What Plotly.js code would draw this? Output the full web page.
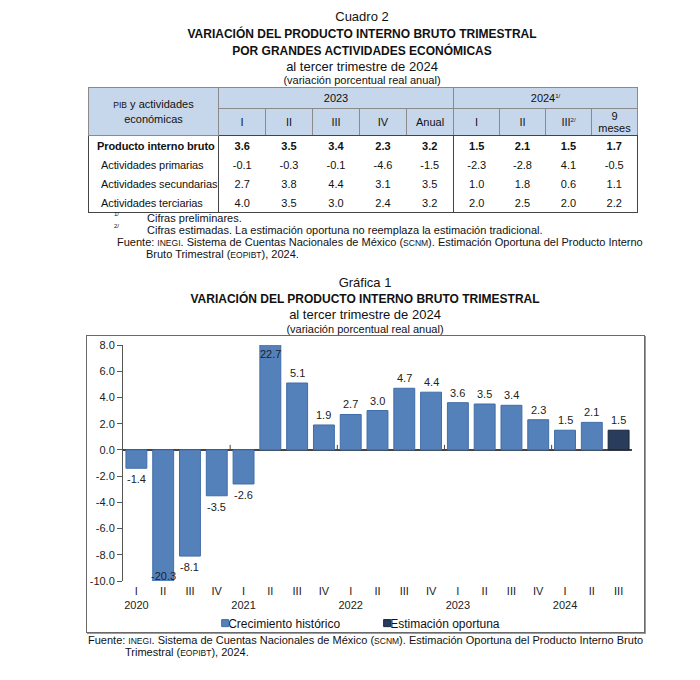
<!DOCTYPE html>
<html>
<head>
<meta charset="utf-8">
<script src="https://cdn.plot.ly/plotly-3.0.1.min.js"></script>
<style>
  html, body { margin:0; padding:0; background:#fff; }
  body { width:700px; height:680px; position:relative; overflow:hidden;
         font-family:"Liberation Sans", Arial, sans-serif; color:#111; }
  .ln { position:absolute; white-space:nowrap; line-height:14px; height:14px; }
  .ctr { text-align:center; }
  .b { font-weight:bold; }
  .sc { font-size:8.5px; }
  sup.fn { font-size:6px; vertical-align:4px; line-height:0; }
  #tbl { position:absolute; left:88px; top:87px; border-collapse:collapse; table-layout:fixed;
         width:549px; font-size:11px; border:1px solid #444; }
  #tbl th { font-weight:normal; background:#C6D6EB; text-align:center; padding:0;
            border:1px solid #8a8a8a; }
  #tbl td { padding:0; text-align:center; height:19px; border:none; white-space:nowrap; }
  #tbl td.lab { text-align:left; padding-left:12px; letter-spacing:-0.1px; }
  #tbl tr.pib td { font-weight:bold; }
  #tbl tr.pib td.lab { padding-left:8px; }
  #tbl .sepL { border-left:1px solid #444 !important; }
  #tbl tr.h2 th { border-bottom:1px solid #444; }
  #chartbox { position:absolute; left:86px; top:335px; width:557px; height:296px;
              border:1px solid #6a6a6a; box-shadow:1px 1px 0 #9a9a9a; }
  #chart { width:557px; height:296px; }
</style>
</head>
<body>
<table id="tbl"></table>
<div id="chartbox"><div id="chart"></div></div>
<script>
// ---------- Chart data (Gráfica 1) ----------
const quarters = ['I','II','III','IV','I','II','III','IV','I','II','III','IV','I','II','III','IV','I','II','III'];
const years    = ['2020','2020','2020','2020','2021','2021','2021','2021','2022','2022','2022','2022','2023','2023','2023','2023','2024','2024','2024'];
const gdpGrowth = [-1.4,-20.3,-8.1,-3.5,-2.6,22.7,5.1,1.9,2.7,3.0,4.7,4.4,3.6,3.5,3.4,2.3,1.5,2.1,1.5];
const estimateType = ['hist','hist','hist','hist','hist','hist','hist','hist','hist','hist','hist','hist','hist','hist','hist','hist','hist','hist','est'];
const seriesNames = { hist:'Crecimiento histórico', est:'Estimación oportuna' };
const yTickValues = [-10, -8, -6, -4, -2, 0, 2, 4, 6, 8];

// ---------- Table data (Cuadro 2) ----------
const tableGroups = ['2023','2024'];
const cols2023 = ['I','II','III','IV','Anual'];
const cols2024 = ['I','II','III','9<br>meses'];
const rowLabels = ['Producto interno bruto','Actividades primarias','Actividades secundarias','Actividades terciarias'];
const rowPIB         = [3.6, 3.5, 3.4, 2.3, 3.2, 1.5, 2.1, 1.5, 1.7];
const rowPrimarias   = [-0.1,-0.3,-0.1,-4.6,-1.5,-2.3,-2.8, 4.1,-0.5];
const rowSecundarias = [2.7, 3.8, 4.4, 3.1, 3.5, 1.0, 1.8, 0.6, 1.1];
const rowTerciarias  = [4.0, 3.5, 3.0, 2.4, 3.2, 2.0, 2.5, 2.0, 2.2];

// ---------- text helper ----------
function line(parent, html, opts) {
  const d = document.createElement('div');
  d.className = 'ln' + (opts.center ? ' ctr' : '') + (opts.bold ? ' b' : '');
  d.innerHTML = html;
  d.style.fontSize = (opts.size || 11) + 'px';
  d.style.top = (opts.cy - 7) + 'px';
  if (opts.center) { d.style.left = (opts.cx - 300) + 'px'; d.style.width = '600px'; }
  else { d.style.left = opts.x + 'px'; }
  parent.appendChild(d);
}
const body = document.body;
line(body, 'Cuadro 2', {center:true, cx:362, cy:17, size:13});
line(body, 'VARIACIÓN DEL PRODUCTO INTERNO BRUTO TRIMESTRAL', {center:true, cx:362, cy:34, size:12, bold:true});
line(body, 'POR GRANDES ACTIVIDADES ECONÓMICAS', {center:true, cx:362, cy:51, size:12, bold:true});
line(body, 'al tercer trimestre de 2024', {center:true, cx:362, cy:67, size:13});
line(body, '(variación porcentual real anual)', {center:true, cx:362, cy:80, size:11});

// ---------- table ----------
(function buildTable(){
  const rows = [rowPIB, rowPrimarias, rowSecundarias, rowTerciarias];
  let h = '<colgroup><col style="width:130px">';
  cols2023.forEach(()=> h += '<col style="width:47px">');
  cols2024.forEach(()=> h += '<col style="width:46px">');
  h += '</colgroup>';
  h += '<tr style="height:21px"><th rowspan="2" style="line-height:14px"><span class="sc">PIB</span> y actividades<br>económicas</th>';
  h += '<th colspan="' + cols2023.length + '" class="sepL">' + tableGroups[0] + '</th>';
  h += '<th colspan="' + cols2024.length + '" class="sepL">' + tableGroups[1] + '<sup class="fn">1/</sup></th></tr>';
  h += '<tr class="h2" style="height:27px">';
  cols2023.forEach((c,i)=> h += '<th' + (i===0?' class="sepL"':'') + '>' + c + '</th>');
  cols2024.forEach((c,i)=> {
    let t = c;
    if (c === 'III') t = 'III<sup class="fn">2/</sup>';
    if (c.indexOf('<br>')>=0) t = '<div style="line-height:12px">' + c + '</div>';
    h += '<th' + (i===0?' class="sepL"':'') + '>' + t + '</th>';
  });
  h += '</tr>';
  rows.forEach((r, ri) => {
    h += '<tr' + (ri===0?' class="pib"':'') + '><td class="lab">' + rowLabels[ri] + '</td>';
    r.forEach((v, ci) => {
      const sep = (ci === 0 || ci === cols2023.length) ? ' class="sepL"' : '';
      h += '<td' + sep + '>' + v.toFixed(1) + '</td>';
    });
    h += '</tr>';
  });
  document.getElementById('tbl').innerHTML = h;
})();

// ---------- notes ----------
line(body, '<sup class="fn">1/</sup>', {x:114, cy:216, size:11});
line(body, 'Cifras preliminares.', {x:147, cy:218, size:11});
line(body, '<sup class="fn">2/</sup>', {x:114, cy:228, size:11});
line(body, 'Cifras estimadas. La estimación oportuna no reemplaza la estimación tradicional.', {x:147, cy:230, size:11});
line(body, 'Fuente: <span class="sc">INEGI</span>. Sistema de Cuentas Nacionales de México (<span class="sc">SCNM</span>). Estimación Oportuna del Producto Interno', {x:117, cy:242, size:11});
line(body, 'Bruto Trimestral (<span class="sc">EOPIBT</span>), 2024.', {x:146, cy:254, size:11});

line(body, 'Gráfica 1', {center:true, cx:365, cy:283, size:13});
line(body, 'VARIACIÓN DEL PRODUCTO INTERNO BRUTO TRIMESTRAL', {center:true, cx:365, cy:299, size:12, bold:true});
line(body, 'al tercer trimestre de 2024', {center:true, cx:365, cy:315, size:13});
line(body, '(variación porcentual real anual)', {center:true, cx:365, cy:329, size:11});

line(body, 'Fuente: <span class="sc">INEGI</span>. Sistema de Cuentas Nacionales de México (<span class="sc">SCNM</span>). Estimación Oportuna del Producto Interno Bruto', {x:88, cy:640, size:11});
line(body, 'Trimestral (<span class="sc">EOPIBT</span>), 2024.', {x:125, cy:652, size:11});

// ---------- chart ----------
const yMin = -10, yMax = 8;
const idx = gdpGrowth.map((_, i) => i);
const colors = { hist:'#5581BA', est:'#293C5C' };
const lineColors = { hist:'#3F6DA8', est:'#15233B' };
const traces = ['hist','est'].map(k => {
  const xs = [], ys = [];
  idx.forEach(i => { if (estimateType[i] === k) { xs.push(i); ys.push(gdpGrowth[i]); } });
  return { type:'bar', name:seriesNames[k], x:xs, y:ys,
           marker:{ color:colors[k], line:{ color:lineColors[k], width:1 } },
           hoverinfo:'skip' };
});

const annotations = gdpGrowth.map((v, i) => {
  let y, anchor, shift = 0;
  if (v > yMax) { y = yMax; anchor = 'top'; shift = -1; }
  else if (v < yMin) { y = yMin; anchor = 'middle'; shift = 5; }
  else if (v >= 0) { y = v; anchor = 'bottom'; shift = 2; }
  else { y = v; anchor = 'top'; shift = -3; }
  return { x:i, y:y, xref:'x', yref:'y', text:v.toFixed(1), showarrow:false,
           yanchor:anchor, yshift:shift, font:{ size:11, color:'#222' } };
});

const tickText = quarters.map((q, i) => (q === 'I') ? (q + '<br>' + years[i]) : q);
const boundaries = [];
quarters.forEach((q, i) => { if (q === 'I' && i > 0) boundaries.push(i - 0.5); });
const shapes = boundaries.map(b => ({
  type:'line', xref:'x', yref:'y', x0:b, x1:b, ysizemode:'pixel', yanchor:0, y0:-1, y1:5,
  line:{ color:'#444', width:1 }
}));

const layout = {
  width:557, height:296,
  margin:{ l:36, r:12, t:9, b:51, autoexpand:false },
  paper_bgcolor:'rgba(0,0,0,0)', plot_bgcolor:'rgba(0,0,0,0)',
  font:{ family:'"Liberation Sans", Arial, sans-serif', size:11, color:'#222' },
  barmode:'overlay', bargap:0.22,
  showlegend:true,
  legend:{ orientation:'h', x:0.128, xanchor:'left', xref:'paper', y:0.03, yref:'container', yanchor:'middle',
           entrywidth:117, entrywidthmode:'pixels', itemwidth:30,
           font:{ size:12, color:'#111' }, bgcolor:'rgba(0,0,0,0)', traceorder:'normal' },
  xaxis:{ range:[-0.5, gdpGrowth.length - 0.5], tickmode:'array', tickvals:idx, ticktext:tickText,
          showline:false, ticks:'', showgrid:false, zeroline:false, fixedrange:true, automargin:false,
          ticklabelstandoff:2, tickfont:{ size:11, color:'#222' } },
  yaxis:{ range:[yMin, yMax], tickmode:'array', tickvals:yTickValues, ticktext:yTickValues.map(v => v.toFixed(1)),
          showline:true, linecolor:'#555',
          linewidth:1, ticks:'outside', ticklen:5, tickcolor:'#555', showgrid:false, automargin:false,
          zeroline:true, zerolinecolor:'#444', zerolinewidth:1.5, fixedrange:true,
          tickfont:{ size:11, color:'#222' } },
  annotations:annotations,
  shapes:shapes
};

Plotly.newPlot('chart', traces, layout, { displayModeBar:false, staticPlot:true }).then(gd => {
  // smaller legend swatches placed right before the text, as in the reference
  gd.querySelectorAll('.legendpoints path').forEach(p => p.setAttribute('d', 'M20.5,3.5H13.5V-3.5H20.5Z'));
});
</script>
</body>
</html>
